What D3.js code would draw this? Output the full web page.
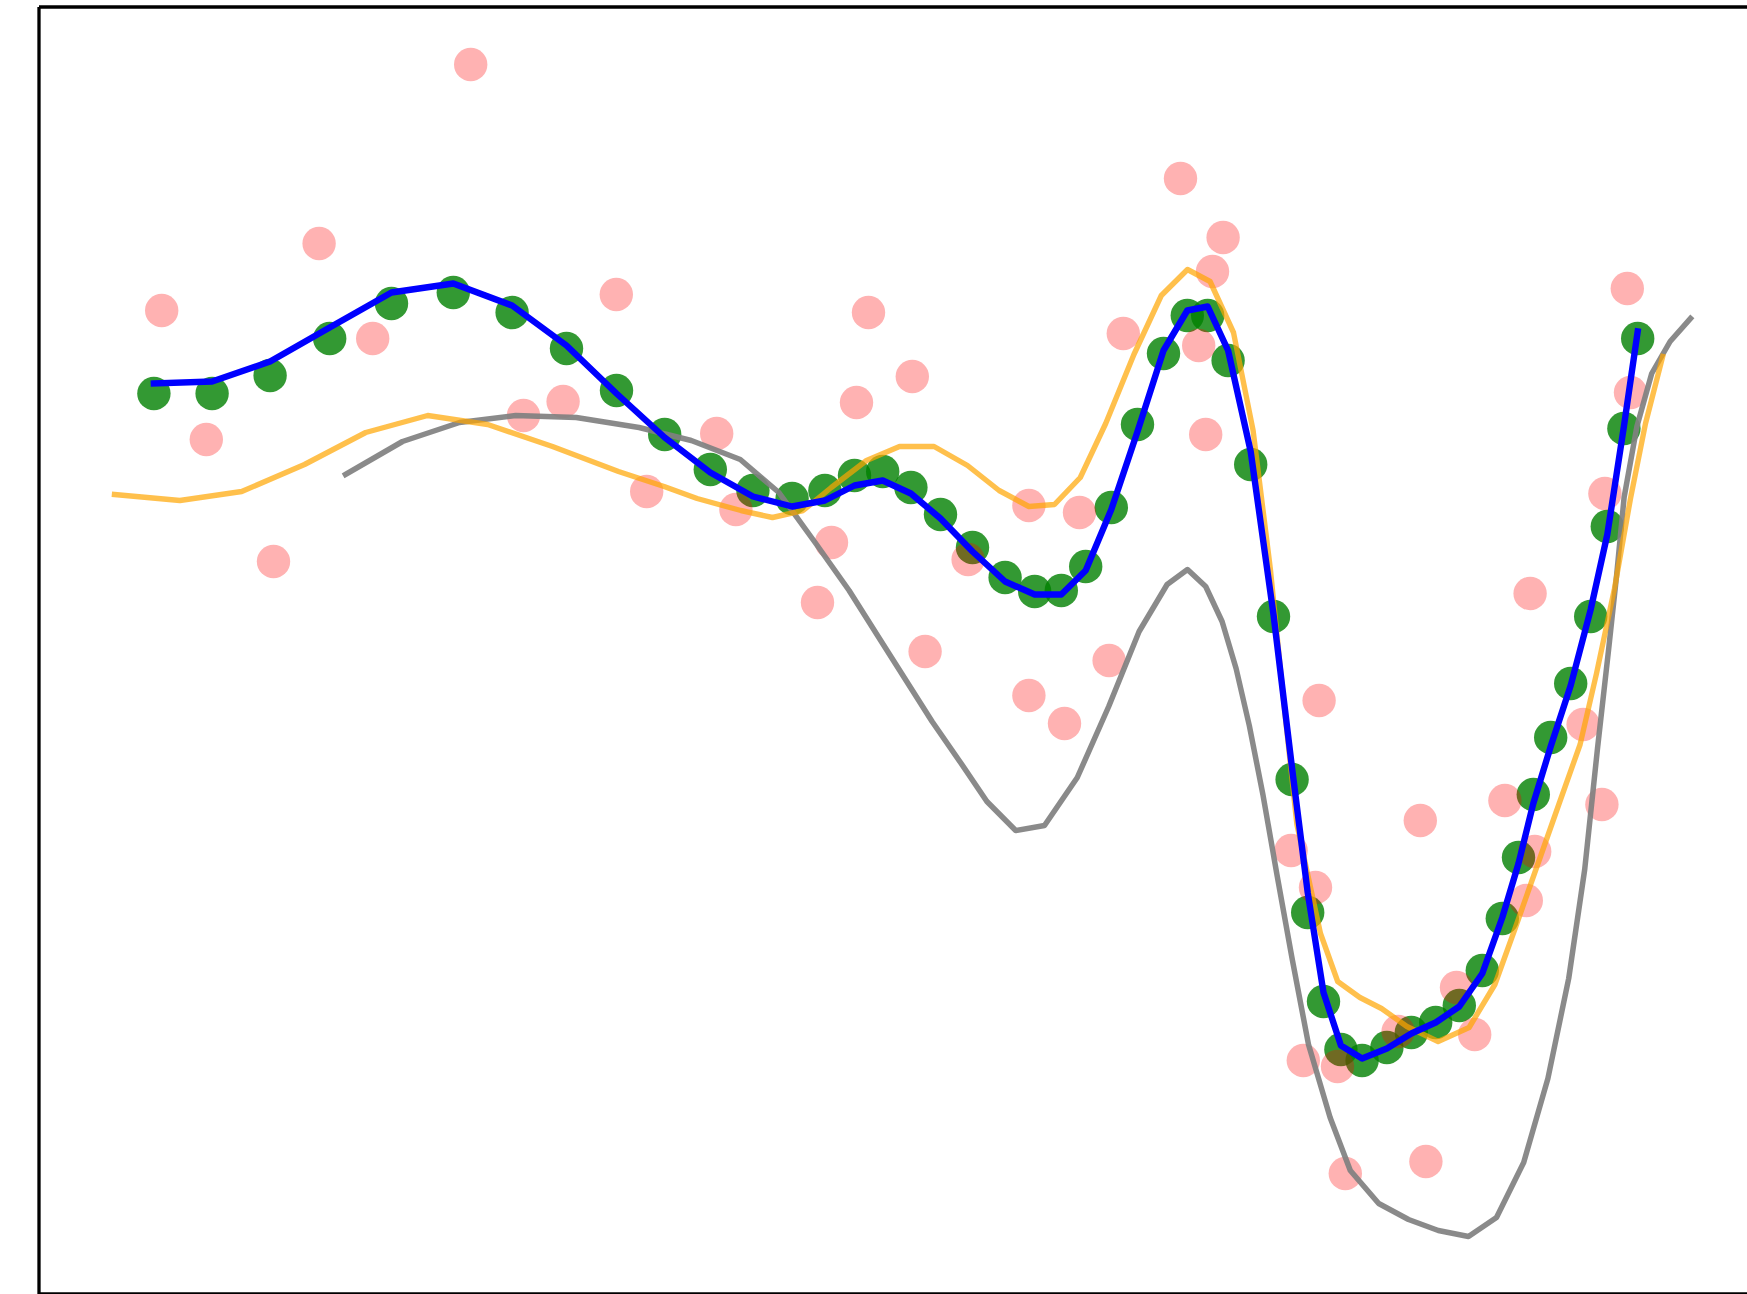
<!DOCTYPE html>
<html>
<head>
<meta charset="utf-8">
<script src="https://cdn.jsdelivr.net/npm/d3@7"></script>
<style>
    html, body { margin: 0; padding: 0; background: #fff; overflow: hidden; }
    .spine path.domain { stroke: #000; stroke-width: 3.3; }
</style>
</head>
<body>
<div id="vis"></div>
<script>
'use strict';

//estimates (green), same x for the smoothed line (blue)
var estX = [5.77, 8.68, 11.58, 14.56, 17.65, 20.74, 23.68, 26.40, 28.90, 31.31,
    33.59, 35.72, 37.68, 39.32, 40.80, 42.21, 43.62, 45.10, 46.70, 48.33,
    49.81, 51.14, 52.36, 53.64, 54.95, 56.25, 57.44, 58.46, 59.48, 60.61,
    61.75, 62.68, 63.46, 64.25, 65.12, 66.18, 67.42, 68.64, 69.86, 71.04,
    72.19, 73.19, 74.00, 74.74, 75.61, 76.61, 77.61, 78.44, 79.27, 79.96];
var estY = [9.00, 9.00, 9.18, 9.55, 9.90, 10.01, 9.81, 9.45, 9.03, 8.59,
    8.24, 8.03, 7.95, 8.03, 8.18, 8.22, 8.06, 7.79, 7.46, 7.16,
    7.02, 7.03, 7.27, 7.86, 8.69, 9.40, 9.78, 9.78, 9.33, 8.29,
    6.77, 5.14, 3.81, 2.92, 2.44, 2.33, 2.46, 2.61, 2.71, 2.88,
    3.23, 3.75, 4.36, 4.99, 5.56, 6.10, 6.77, 7.67, 8.65, 9.55];
var smoothY = [9.10, 9.12, 9.32, 9.66, 10.01, 10.10, 9.88, 9.48, 9.00, 8.56,
    8.21, 7.97, 7.87, 7.93, 8.08, 8.13, 8.00, 7.75, 7.42, 7.12,
    6.99, 6.99, 7.23, 7.84, 8.62, 9.43, 9.83, 9.87, 9.43, 8.42,
    6.79, 5.25, 4.01, 3.01, 2.48, 2.35, 2.45, 2.60, 2.71, 2.87,
    3.20, 3.76, 4.30, 4.90, 5.47, 6.08, 6.84, 7.59, 8.67, 9.62];

//noisy measurements (pink)
var measX = [6.16, 8.39, 11.75, 14.03, 16.71, 21.61, 24.25, 26.23, 28.89, 30.41,
    33.91, 34.87, 38.95, 39.65, 40.90, 41.50, 43.69, 44.33, 46.48, 49.52,
    49.52, 51.30, 52.05, 53.53, 54.24, 57.10, 58.01, 58.36, 58.70, 59.23,
    62.63, 63.24, 63.85, 64.03, 64.95, 65.34, 67.98, 69.09, 69.37, 70.90,
    71.81, 73.32, 74.39, 74.58, 74.81, 77.23, 78.17, 78.32, 79.44, 79.60];
var measY = [9.83, 8.54, 7.32, 10.50, 9.55, 12.29, 8.78, 8.92, 9.99, 8.02,
    8.60, 7.84, 6.91, 7.51, 8.91, 9.81, 9.17, 6.42, 7.34, 7.88,
    5.98, 5.70, 7.81, 6.33, 9.60, 11.15, 9.48, 8.59, 10.22, 10.56,
    4.43, 2.33, 4.06, 5.93, 2.27, 1.20, 2.62, 4.73, 1.32, 3.06,
    2.59, 4.93, 3.93, 7.00, 4.42, 5.69, 4.89, 8.00, 10.05, 9.01];

//orange line
var orangeX = [3.80, 7.07, 10.16, 13.30, 16.36, 19.46, 22.46, 25.70, 29.00, 31.28,
    32.93, 35.12, 36.70, 38.23, 39.64, 41.40, 43.05, 44.78, 46.45, 48.03,
    49.52, 50.80, 52.09, 53.36, 54.77, 56.14, 57.45, 58.58, 59.75, 60.73,
    61.59, 62.26, 62.92, 64.10, 64.96, 66.07, 67.15, 68.42, 69.98, 71.53,
    72.82, 73.83, 74.94, 76.05, 77.08, 77.90, 78.80, 79.60, 80.35, 81.21];
var orangeY = [7.99, 7.93, 8.02, 8.29, 8.61, 8.78, 8.69, 8.47, 8.22, 8.07,
    7.95, 7.83, 7.76, 7.83, 8.06, 8.33, 8.47, 8.47, 8.28, 8.03,
    7.87, 7.89, 8.16, 8.70, 9.39, 9.98, 10.24, 10.12, 9.61, 8.63,
    7.25, 5.92, 4.69, 3.60, 3.12, 2.96, 2.85, 2.67, 2.52, 2.66,
    3.09, 3.65, 4.28, 4.91, 5.49, 6.20, 7.05, 7.95, 8.70, 9.37];

//gray line
var grayX = [15.35, 18.20, 21.05, 23.86, 26.89, 30.03, 32.64, 35.09, 37.02, 38.83,
    40.53, 42.11, 44.68, 46.10, 47.42, 48.86, 50.30, 51.94, 53.51, 55.03,
    56.43, 57.45, 58.36, 59.18, 59.88, 60.54, 61.22, 61.93, 62.67, 63.50,
    64.58, 65.59, 67.01, 68.50, 69.99, 71.50, 72.90, 74.26, 75.47, 76.51,
    77.31, 77.95, 78.50, 78.91, 79.28, 79.92, 80.66, 81.58, 82.60];
var grayY = [8.19, 8.52, 8.71, 8.78, 8.76, 8.66, 8.53, 8.34, 8.01, 7.51,
    7.03, 6.53, 5.72, 5.31, 4.92, 4.63, 4.68, 5.16, 5.87, 6.62,
    7.09, 7.24, 7.07, 6.72, 6.25, 5.68, 4.99, 4.18, 3.36, 2.49,
    1.76, 1.23, 0.90, 0.74, 0.63, 0.57, 0.76, 1.31, 2.15, 3.15,
    4.24, 5.45, 6.43, 7.19, 7.96, 8.67, 9.20, 9.52, 9.75];

//canvas, the axes box runs past the right edge of the picture
var size = { w: 1747, h: 1294 };
var box = { left: 38.5, top: 6.5, right: 1748.5, bottom: 1293.5 };

var x = d3.scaleLinear().domain([0, 85.5]).range([box.left, box.right]);
var y = d3.scaleLinear().domain([0, 12.87]).range([box.bottom, box.top]);

function pairs(xs, ys) {
    return xs.map(function (v, i) { return [v, ys[i]]; });
}

function drawLine(svg, data, color, opacity, width) {
    var line = d3.line()
        .x(function (d) { return x(d[0]); })
        .y(function (d) { return y(d[1]); });
    svg.append('path')
        .datum(data)
        .attr('d', line)
        .attr('fill', 'none')
        .attr('stroke', color)
        .attr('stroke-opacity', opacity)
        .attr('stroke-width', width)
        .attr('stroke-linejoin', 'round')
        .attr('stroke-linecap', 'square');
}

function drawDots(svg, data, color, opacity) {
    svg.append('g')
        .selectAll('circle')
        .data(data)
        .enter().append('circle')
        .attr('cx', function (d) { return x(d[0]); })
        .attr('cy', function (d) { return y(d[1]); })
        .attr('r', 16.7)
        .attr('fill', color)
        .attr('fill-opacity', opacity);
}

var svg = d3.select('#vis').append('svg')
    .attr('width', size.w)
    .attr('height', size.h);

svg.append('rect')
    .attr('width', size.w)
    .attr('height', size.h)
    .attr('fill', '#fff');

//marks, in the stacking order of the picture
drawDots(svg, pairs(estX, estY), 'green', 0.8);
drawDots(svg, pairs(measX, measY), 'red', 0.3);
drawLine(svg, pairs(grayX, grayY), 'gray', 0.92, 5.5);
drawLine(svg, pairs(orangeX, orangeY), 'orange', 0.7, 5.4);
drawLine(svg, pairs(estX, smoothY), 'blue', 1, 6.4);

//spines only, no ticks or labels
svg.append('g')
    .attr('class', 'spine')
    .attr('transform', 'translate(' + box.left + ',0)')
    .call(d3.axisLeft(y).tickValues([]).tickSizeOuter(0));
svg.append('g')
    .attr('class', 'spine')
    .attr('transform', 'translate(0,' + box.top + ')')
    .call(d3.axisTop(x).tickValues([]).tickSizeOuter(0));
svg.append('g')
    .attr('class', 'spine')
    .attr('transform', 'translate(0,' + box.bottom + ')')
    .call(d3.axisBottom(x).tickValues([]).tickSizeOuter(0));
</script>
</body>
</html>
